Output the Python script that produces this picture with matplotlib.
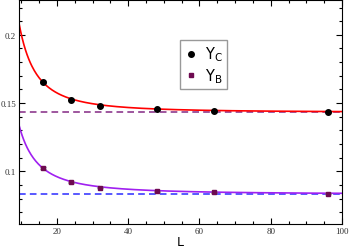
import numpy as np
import matplotlib
matplotlib.use('Agg')
import matplotlib.pyplot as plt
from matplotlib.ticker import MultipleLocator

# data
L_vals = [16, 24, 32, 48, 64, 96]
yc_vals = [0.1655, 0.1526, 0.1478, 0.1453, 0.1440, 0.1434]
yb_vals = [0.1024, 0.0920, 0.0881, 0.0854, 0.0845, 0.0837]
yc_err = [0.0006, 0.0004, 0.0003, 0.0003, 0.0003, 0.0003]
yb_err = [0.0005, 0.0004, 0.0003, 0.0003, 0.0003, 0.0003]

# fit a + b * L^-c, and the infinite-size limits (dashed lines)
fit_c = (0.1432, 5.68, 2.0)
fit_b = (0.0832, 2.82, 1.8)
yc_inf = 0.1436
yb_inf = 0.0832

xlim = (9.3, 100)
ylim = (0.0615, 0.2255)

fig = plt.figure(figsize=(3.5, 2.51), dpi=100)
ax = fig.add_axes([0.054, 0.104, 0.923, 0.892])

Lf = np.linspace(xlim[0], xlim[1], 400)
ax.plot(Lf, fit_c[0] + fit_c[1] * Lf ** -fit_c[2], color='red', lw=1.2, zorder=2)
ax.plot(Lf, fit_b[0] + fit_b[1] * Lf ** -fit_b[2], color='#a020f0', lw=1.2, zorder=2)
ax.axhline(yc_inf, color='#8e3a8e', lw=1.2, ls=(0, (4, 2.5)), zorder=1)
ax.axhline(yb_inf, color='#3c3cff', lw=1.2, ls=(0, (4, 2.5)), zorder=1)

# error bars (drawn grey, small)
ax.errorbar(L_vals, yc_vals, yerr=yc_err, fmt='none', ecolor='gray',
            elinewidth=0.8, capsize=2.5, zorder=3)
ax.errorbar(L_vals, yb_vals, yerr=yb_err, fmt='none', ecolor='gray',
            elinewidth=0.8, capsize=2.5, zorder=3)
hc, = ax.plot(L_vals, yc_vals, 'o', ms=4, color='black', zorder=4)
hb, = ax.plot(L_vals, yb_vals, 's', ms=3.5, color='#6e0a50', zorder=4)

ax.set_xlim(*xlim)
ax.set_ylim(*ylim)
ax.set_yticks([0.1, 0.15, 0.2])
ax.set_yticklabels(['0.1', '0.15', '0.2'])
ax.set_xticks([20, 40, 60, 80, 100])
ax.set_xticklabels(['20', '40', '60', '80', '100'])
ax.xaxis.set_minor_locator(MultipleLocator(5))
ax.yaxis.set_minor_locator(MultipleLocator(0.01))
ax.tick_params(which='both', direction='in', top=True, right=True, width=0.8, pad=2)
ax.tick_params(which='major', length=4)
ax.tick_params(which='minor', length=2)
for lab in ax.get_xticklabels() + ax.get_yticklabels():
    lab.set_family('Liberation Serif')
    lab.set_fontsize(6.5)
    lab.set_color('#333333')

ax.set_xlabel('L', fontsize=9, family='DejaVu Sans', labelpad=0)

leg = ax.legend([hc, hb], [r'$\mathregular{Y_C}$', r'$\mathregular{Y_B}$'],
                loc='upper left', bbox_to_anchor=(0.50, 0.82), fontsize=10.5,
                frameon=True, fancybox=False, edgecolor='gray', handlelength=0.8,
                handletextpad=0.6, borderpad=0.3, labelspacing=0.2,
                borderaxespad=0, numpoints=1)
leg.get_frame().set_linewidth(1.0)

fig.savefig('out.png', dpi=100)
